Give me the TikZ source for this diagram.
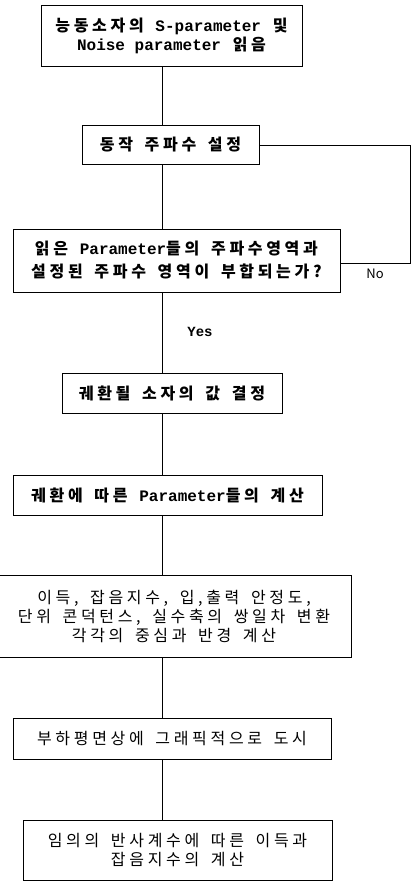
\documentclass[tikz,border=0pt]{standalone}
\usepackage{fontspec}
\setmainfont{Noto Sans CJK KR}[LetterSpace=23,WordSpace=1.6]
\newfontfamily\mono{Liberation Mono}
\newfontfamily\lab{Noto Sans CJK KR}
\newcommand{\mo}[1]{{\mono\fontsize{16}{19}\selectfont #1}}
\begin{document}
\begin{tikzpicture}[x=1pt,y=-1pt,
  box/.style={draw,line width=0.8pt,rectangle,inner sep=0pt,outer sep=0pt,align=center,
    font=\fontsize{16}{19}\selectfont},
  heavy/.style={box,font=\bfseries\fontsize{16}{19}\selectfont},
  conn/.style={line width=0.8pt},
  lbl/.style={inner sep=0pt}]
\clip (0,0) rectangle (413,881);
\coordinate (spine) at (162,0);
\node[heavy,minimum width=261pt,minimum height=61pt] (b1) at (171.5,35.5)
  {능동소자의 \mo{\bfseries S-parameter} 및\\ \mo{\bfseries Noise parameter} 읽음};
\node[heavy,minimum width=177pt,minimum height=39pt] (b2) at (170.5,145)
  {동작 주파수 설정};
\node[heavy,minimum width=327pt,minimum height=63pt,font=\bfseries\fontsize{16}{23}\selectfont] (b3) at (176.4,260.5)
  {읽은 \mo{\bfseries Parameter}들의 주파수영역과\\설정된 주파수 영역이 부합되는가?};
\node[heavy,minimum width=220pt,minimum height=40pt] (b4) at (172,393)
  {궤환될 소자의 값 결정};
\node[heavy,minimum width=309pt,minimum height=40pt] (b5) at (167.5,495)
  {궤환에 따른 \mo{\bfseries Parameter}들의 계산};
\node[box,minimum width=354pt,minimum height=82pt] (b6) at (174,616)
  {이득, 잡음지수, 입,출력 안정도,\\단위 콘덕턴스, 실수축의 쌍일차 변환\\각각의 중심과 반경 계산};
\node[box,minimum width=318pt,minimum height=41pt] (b7) at (172,738.5)
  {부하평면상에 그래픽적으로 도시};
\node[box,minimum width=309pt,minimum height=60pt] (b8) at (177.5,850)
  {임의의 반사계수에 따른 이득과\\잡음지수의 계산};
\coordinate (lt) at (410,145);
\coordinate (lb) at (410,263);
\draw[conn] (b1.south -| spine) -- (b2.north -| spine);
\draw[conn] (b2.south -| spine) -- (b3.north -| spine);
\draw[conn] (b3.south -| spine) -- (b4.north -| spine);
\draw[conn] (b4.south -| spine) -- (b5.north -| spine);
\draw[conn] (b5.south -| spine) -- (b6.north -| spine);
\draw[conn] (b6.south -| spine) -- (b7.north -| spine);
\draw[conn] (b7.south -| spine) -- (b8.north -| spine);
\draw[conn] (b2.east) -- (lt) -- (lb) -- (b3.east |- lb);
\node[lbl,font=\lab\fontsize{13}{15}\selectfont] (no) at (375,274) {No};
\node[lbl,font=\mono\bfseries\fontsize{14}{15}\selectfont] (yes) at (200,332) {Yes};
\end{tikzpicture}
\end{document}
